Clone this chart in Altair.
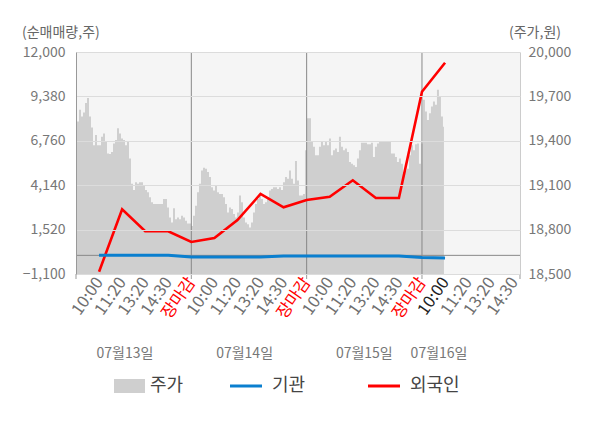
import altair as alt
import pandas as pd

FONT = "Noto Sans CJK KR"

# ---- data -------------------------------------------------------------
# stock price (주가), dense intraday samples
price_day1 = [19427, 19530, 19609, 19564, 19591, 19655, 19690, 19564, 19490, 19370,
              19440, 19370, 19370, 19427, 19450, 19393, 19314, 19310, 19325, 19382,
              19405, 19484, 19450, 19416, 19405, 19370, 19393, 19280, 19109, 19068,
              19120, 19109, 19120, 19120, 19098, 19068, 19052, 19018, 18984, 18973,
              18973, 18973, 18973, 18973, 19007, 19007, 18950, 18882, 18848, 18945]
price_day2 = [18870, 18882, 18870, 18893, 18882, 18859, 18841, 18841, 18825, 18893,
              18961, 19052, 19109, 19200, 19218, 19211, 19189, 19155, 19086, 19064,
              19098, 19052, 19041, 19041, 19018, 18973, 18916, 18950, 18939, 18905,
              18882, 18916, 19030, 18984, 18882, 18848, 18836, 18814, 18848, 18916,
              18973, 19007, 19030, 19007, 18973, 18984, 19018, 19064, 19075]
price_day3 = [19086, 19086, 19075, 19086, 19068, 19120, 19155, 19143, 19200, 19143,
              19109, 19264, 19132, 19030, 19030, 19041, 19336, 19552, 19552, 19393,
              19359, 19302, 19302, 19359, 19393, 19370, 19393, 19370, 19416, 19302,
              19336, 19348, 19325, 19427, 19359, 19336, 19348, 19325, 19257, 19245,
              19234, 19223, 19280, 19336, 19386, 19386, 19386, 19377, 19377]
price_day4 = [19386, 19291, 19359, 19382, 19393, 19393, 19393, 19393, 19393, 19393,
              19314, 19314, 19291, 19257, 19280, 19245, 19189, 19200, 19211, 19302,
              19370, 19336, 19377, 19382, 19245, 19382, 19677, 19598, 19541, 19586,
              19632, 19666, 19643, 19745, 19700, 19564, 19495]
price = price_day1 + price_day2 + price_day3 + price_day4
PRICE_STEP = 0.0867

# net buying (순매매량) at each label slot 1..16
slots = list(range(1, 17))
foreign = [-964, 2718, 1420, 1420, 788, 1024, 2086, 3621, 2836, 3267, 3461, 4429,
           3385, 3385, 9657, 11369]
institution = [10, 10, 10, 10, -90, -90, -90, -90, -40, -40, -40, -40, -40, -40,
               -130, -150]

tick_labels = ["10:00", "11:20", "13:20", "14:30", "장마감",
               "10:00", "11:20", "13:20", "14:30", "장마감",
               "10:00", "11:20", "13:20", "14:30", "장마감",
               "10:00", "11:20", "13:20", "14:30"]
day_bounds = [5, 10, 15]
edge_ticks = [0, 5, 10, 15, 19.25]
dates = ["07월13일", "07월14일", "07월15일", "07월16일"]
date_pos = [2.12, 7.31, 12.5, 15.74]

left_ticks = [-1100, 1520, 4140, 6760, 9380, 12000]
right_ticks = [18500, 18800, 19100, 19400, 19700, 20000]

# ---- tables -----------------------------------------------------------
price_df = pd.DataFrame({"t": [i * PRICE_STEP for i in range(len(price))], "p": price})
net_df = pd.DataFrame({
    "t": slots + slots,
    "v": foreign + institution,
    "s": ["외국인"] * len(slots) + ["기관"] * len(slots),
})
bounds_df = pd.DataFrame({"t": day_bounds})
edge_df = pd.DataFrame({"t": edge_ticks})
date_df = pd.DataFrame({"t": date_pos, "d": dates})
zero_df = pd.DataFrame({"v": [0]})
one = pd.DataFrame({"a": [0]})

# ---- scales / axes ----------------------------------------------------
xscale = alt.Scale(domain=[0, 19.25], nice=False, zero=False)
label_expr = "[" + ",".join("'%s'" % t for t in tick_labels) + "][datum.value - 1]"
xaxis = alt.Axis(values=list(range(1, 20)), labelExpr=label_expr, ticks=False, grid=False,
                 labelAngle=-55, labelAlign="right", labelBaseline="middle",
                 labelOverlap=False, labelBound=False,
                 labelFontSize=16.5, labelPadding=5, title=None, domainColor="#aaaaaa",
                 labelColor={"condition": [{"test": "datum.value == 16", "value": "#222222"},
                                           {"test": "datum.value % 5 == 0", "value": "#ff0000"}],
                             "value": "#6f6f6f"})
lscale = alt.Scale(domain=[-1100, 12000], nice=False, zero=False)
laxis = alt.Axis(values=left_ticks, format=",.0f", ticks=False, grid=True, gridColor="#dcdcdc",
                 domainColor="#999999", labelFontSize=14, labelPadding=11, title=None,
                 labelColor="#777777", labelOverlap=False, zindex=1)
rscale = alt.Scale(domain=[18500, 20000], nice=False, zero=False)
raxis = alt.Axis(values=right_ticks, format=",.0f", orient="right", ticks=False, grid=False,
                 domainColor="#cccccc", labelFontSize=14, labelPadding=8, title=None,
                 labelColor="#777777", labelOverlap=False)

X = lambda: alt.X("t:Q", scale=xscale, axis=xaxis)

area = alt.Chart(price_df).mark_area(color="#cfcfcf", interpolate="step", clip=True).encode(
    x=X(), y=alt.Y("p:Q", scale=rscale, axis=raxis, stack=None), y2=alt.value(222))

zero = alt.Chart(zero_df).mark_rule(color="#888888", strokeWidth=1).encode(
    y=alt.Y("v:Q", scale=lscale, axis=laxis))
seps = alt.Chart(bounds_df).mark_rule(color="#888888", strokeWidth=1).encode(
    x=X(), y=alt.value(0), y2=alt.value(222))
lines = alt.Chart(net_df).mark_line().encode(
    x=X(), y=alt.Y("v:Q", scale=lscale, axis=laxis),
    color=alt.Color("s:N", scale=alt.Scale(domain=["기관", "외국인"], range=["#0a7fcf", "#ff0000"]),
                    legend=None),
    strokeWidth=alt.StrokeWidth("s:N", scale=alt.Scale(domain=["기관", "외국인"], range=[3, 2.6]),
                                legend=None),
    order=alt.Order("s:N", sort="ascending"))
inner = alt.layer(zero, seps, lines)

ticks = alt.Chart(edge_df).mark_rule(color="#999999").encode(
    x=X(), y=alt.value(222), y2=alt.value(227))
date_text = alt.Chart(date_df).mark_text(font=FONT, fontSize=14, color="#777777",
                                         baseline="middle").encode(
    x=X(), y=alt.value(302), text="d:N")

def txt(s, x, y, size=14, color="#666666", align="left"):
    return alt.Chart(one).mark_text(font=FONT, fontSize=size, color=color, align=align,
                                    baseline="middle").encode(
        x=alt.value(x), y=alt.value(y), text=alt.value(s))

ltitle = txt("(순매매량,주)", -54, -19)
rtitle = txt("(주가,원)", 433, -19)
leg_rect = alt.Chart(one).mark_rect(color="#cfcfcf").encode(
    x=alt.value(38), x2=alt.value(69), y=alt.value(327), y2=alt.value(341))
leg_blue = alt.Chart(one).mark_rule(color="#0a7fcf", strokeWidth=3).encode(
    x=alt.value(154), x2=alt.value(186), y=alt.value(334))
leg_red = alt.Chart(one).mark_rule(color="#ff0000", strokeWidth=3).encode(
    x=alt.value(292), x2=alt.value(324), y=alt.value(334))
leg_t1 = txt("주가", 74, 334, 18, "#444444")
leg_t2 = txt("기관", 196, 334, 18, "#444444")
leg_t3 = txt("외국인", 334, 334, 18, "#444444")

main = alt.layer(area, inner).resolve_scale(y="independent")

chart = alt.layer(main, ticks, date_text, ltitle, rtitle, leg_rect, leg_blue, leg_red,
                  leg_t1, leg_t2, leg_t3).properties(
    width=444, height=222,
    autosize=alt.AutoSizeParams(type="none"),
    padding={"left": 68, "top": 44, "right": 72, "bottom": 146},
).configure_view(fill="#f5f5f5", strokeWidth=0).configure_axis(
    labelFont=FONT, titleFont=FONT)

chart.save("out.html", embed_options={"renderer": "svg", "actions": False})
